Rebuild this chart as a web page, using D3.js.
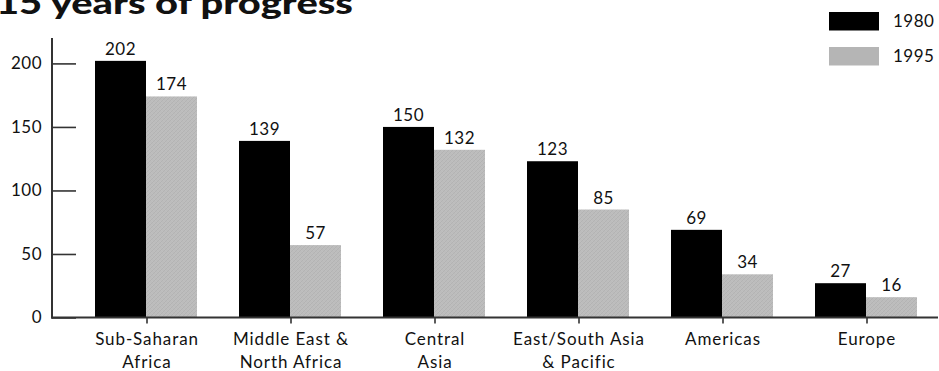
<!DOCTYPE html>
<html>
<head>
<meta charset="utf-8">
<script src="https://cdn.jsdelivr.net/npm/d3@7"></script>
<style>
  html, body { margin: 0; padding: 0; background: #fff; }
  svg { display: block; }
  text { font-family: "Lato", "Open Sans", sans-serif; fill: #111; }
</style>
</head>
<body>
<svg id="chart" width="939" height="371"></svg>
<script>
// Regions and their values for the two survey years
const regions = [
  ["Sub-Saharan", "Africa"],
  ["Middle East &", "North Africa"],
  ["Central", "Asia"],
  ["East/South Asia", "& Pacific"],
  ["Americas"],
  ["Europe"]
];
const years = ["1980", "1995"];
const values1980 = [202, 139, 150, 123, 69, 27];
const values1995 = [174, 57, 132, 85, 34, 16];
const yTicks = [0, 50, 100, 150, 200];
const title = "15 years of progress";

const colors = { "1980": "#000000", "1995": "url(#grayHatch)" };
const legendColors = { "1980": "#000000", "1995": "#b5b5b5" };

const svg = d3.select("#chart");

// Fine cross-hatch texture for the lighter series
const defs = svg.append("defs");
const pat = defs.append("pattern")
  .attr("id", "grayHatch")
  .attr("patternUnits", "userSpaceOnUse")
  .attr("width", 4).attr("height", 4);
pat.append("rect").attr("width", 4).attr("height", 4).attr("fill", "#bcbcbc");
pat.append("path").attr("d", "M0,4 L4,0 M-1,1 L1,-1 M3,5 L5,3")
  .attr("stroke", "#afafaf").attr("stroke-width", 0.7);
pat.append("path").attr("d", "M0,0 L4,4 M-1,3 L1,5 M3,-1 L5,1")
  .attr("stroke", "#c3c3c3").attr("stroke-width", 0.5);

const axisLeftX = 52;
const baseY = 317.5;

const keys = regions.map(r => r.join(" "));

const x0 = d3.scaleBand()
  .domain(keys)
  .range([95, 917])
  .paddingInner(42 / 144)
  .paddingOuter(0);

const x1 = d3.scaleBand()
  .domain(years)
  .range([0, x0.bandwidth()]);

const y = d3.scaleLinear()
  .domain([0, 220])
  .range([baseY, 38]);

// Title
svg.append("text")
  .attr("x", -4)
  .attr("y", 14)
  .attr("textLength", 357)
  .attr("lengthAdjust", "spacingAndGlyphs")
  .style("font-size", "30px")
  .style("font-weight", 900)
  .attr("fill", "#000")
  .text(title);

// Bars
const data = keys.map((k, i) => ({ key: k, vals: [values1980[i], values1995[i]] }));

const groups = svg.append("g").selectAll("g")
  .data(data)
  .join("g")
  .attr("transform", d => `translate(${x0(d.key)},0)`);

groups.selectAll("rect")
  .data(d => years.map((yr, j) => ({ yr, v: d.vals[j] })))
  .join("rect")
  .attr("x", d => x1(d.yr))
  .attr("y", d => y(d.v))
  .attr("width", x1.bandwidth())
  .attr("height", d => baseY - y(d.v))
  .attr("fill", d => colors[d.yr]);

// Value labels
groups.selectAll("text.val")
  .data(d => years.map((yr, j) => ({ yr, v: d.vals[j] })))
  .join("text")
  .attr("class", "val")
  .attr("x", d => x1(d.yr) + x1.bandwidth() / 2)
  .attr("y", d => y(d.v) - 6)
  .attr("text-anchor", "middle")
  .style("font-size", "17px")
  .style("letter-spacing", "0.5px")
  .text(d => d.v);

// Y axis
const yAxis = d3.axisRight(y)
  .tickValues(yTicks)
  .tickSize(24)
  .tickFormat(d3.format("d"));

const gy = svg.append("g")
  .attr("transform", `translate(${axisLeftX},0)`)
  .call(yAxis);
gy.select(".domain").remove();
gy.selectAll(".tick line").attr("stroke", "#333").attr("stroke-width", 1.6);
gy.selectAll(".tick text")
  .attr("x", -10)
  .attr("text-anchor", "end")
  .style("font-size", "17px")
  .style("letter-spacing", "0.5px")
  .attr("fill", "#111");

svg.append("line")
  .attr("x1", axisLeftX).attr("x2", axisLeftX)
  .attr("y1", y.range()[1]).attr("y2", baseY + 1)
  .attr("stroke", "#333").attr("stroke-width", 2);

// X axis baseline and category ticks
svg.append("line")
  .attr("x1", axisLeftX - 1).attr("x2", 938)
  .attr("y1", baseY).attr("y2", baseY)
  .attr("stroke", "#333").attr("stroke-width", 2);

const xTick = d => x0(d) + x1.bandwidth() + 1;

svg.append("g").selectAll("line")
  .data(keys)
  .join("line")
  .attr("x1", xTick).attr("x2", xTick)
  .attr("y1", baseY).attr("y2", baseY + 6)
  .attr("stroke", "#333").attr("stroke-width", 1.6);

const cat = svg.append("g").selectAll("text")
  .data(regions)
  .join("text")
  .attr("x", (d, i) => xTick(keys[i]))
  .attr("y", 345)
  .attr("text-anchor", "middle")
  .style("font-size", "17px")
  .style("letter-spacing", "0.9px");
cat.selectAll("tspan")
  .data(d => d)
  .join("tspan")
  .attr("x", function () { return d3.select(this.parentNode).attr("x"); })
  .attr("dy", (d, i) => i === 0 ? 0 : 22.5)
  .text(d => d);

// Legend
const legend = svg.append("g").selectAll("g")
  .data(years)
  .join("g")
  .attr("transform", (d, i) => `translate(829,${12 + i * 35})`);
legend.append("rect")
  .attr("width", 50).attr("height", 18.5)
  .attr("fill", d => legendColors[d]);
legend.append("text")
  .attr("x", 64).attr("y", 9.5)
  .attr("dy", "0.35em")
  .style("font-size", "17px")
  .style("letter-spacing", "0.5px")
  .text(d => d);
</script>
</body>
</html>
